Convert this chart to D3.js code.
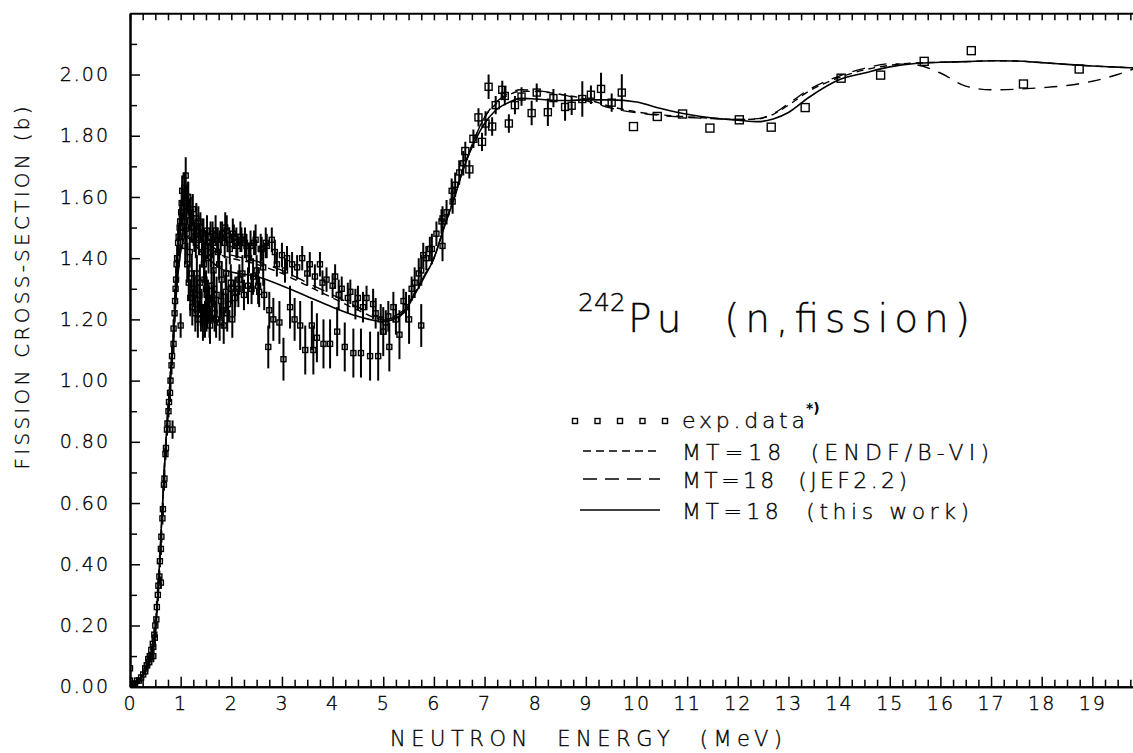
<!DOCTYPE html>
<html><head><meta charset="utf-8">
<script src="https://cdn.jsdelivr.net/npm/d3@7"></script>
<style>
html,body{margin:0;padding:0;background:#fff;}
svg text{font-family:"DejaVu Sans","Liberation Sans",sans-serif;font-weight:200;fill:#000;stroke:#000;stroke-width:0.35px;}
</style></head>
<body><svg id="c" width="1133" height="753"></svg>
<script>
// ---------------- DATA ----------------
const xTickLabels = [0,1,2,3,4,5,6,7,8,9,10,11,12,13,14,15,16,17,18,19];
const yTickLabels = [0,0.2,0.4,0.6,0.8,1.0,1.2,1.4,1.6,1.8,2.0];

// Evaluated curves (energy in MeV, cross-section in b)
const curveE = [0,0.1,0.2,0.3,0.4,0.5,0.55,0.6,0.65,0.7,0.75,0.8,0.85,0.9,0.95,1.0,1.1,1.2,1.4,1.6,1.8,2.0,2.5,3.0,3.5,4.0,4.5,5.0,5.2,5.4,5.6,5.8,6.0,6.2,6.4,6.6,6.8,7.0,7.2,7.5,7.7,8.0,8.5,9.0,9.5,10.0,10.5,11.0,11.5,12.0,12.4,12.7,13.0,13.4,14.0,14.5,15.0,15.5,16.0,16.5,17.0,17.5,18.0,18.5,19.0,19.5,20.0];
const thisWork = [0.01,0.005,0.02,0.05,0.09,0.18,0.30,0.46,0.62,0.78,0.90,1.02,1.12,1.25,1.35,1.42,1.47,1.46,1.42,1.39,1.365,1.355,1.34,1.31,1.275,1.24,1.21,1.193,1.20,1.22,1.275,1.335,1.40,1.50,1.595,1.70,1.78,1.84,1.88,1.91,1.922,1.92,1.915,1.917,1.917,1.91,1.888,1.87,1.858,1.851,1.846,1.855,1.876,1.925,1.983,2.005,2.025,2.036,2.04,2.042,2.045,2.044,2.039,2.033,2.028,2.024,2.02];
const endfB6 = [0.01,0.005,0.02,0.05,0.09,0.18,0.30,0.46,0.62,0.78,0.90,1.02,1.13,1.27,1.37,1.44,1.50,1.49,1.46,1.43,1.41,1.40,1.38,1.35,1.31,1.27,1.23,1.20,1.205,1.225,1.28,1.34,1.40,1.50,1.60,1.70,1.79,1.86,1.90,1.935,1.945,1.945,1.935,1.92,1.895,1.878,1.868,1.862,1.857,1.853,1.855,1.87,1.90,1.945,1.99,2.015,2.03,2.038,2.04,2.042,2.045,2.044,2.039,2.033,2.028,2.024,2.02];
const jef22 = [0.01,0.005,0.02,0.05,0.09,0.18,0.30,0.46,0.62,0.78,0.90,1.02,1.13,1.27,1.37,1.45,1.51,1.50,1.47,1.44,1.42,1.41,1.39,1.36,1.32,1.28,1.24,1.205,1.21,1.23,1.28,1.34,1.40,1.50,1.60,1.70,1.79,1.86,1.905,1.94,1.95,1.948,1.935,1.915,1.89,1.875,1.866,1.86,1.856,1.853,1.856,1.872,1.905,1.95,1.995,2.02,2.035,2.032,2.005,1.962,1.95,1.952,1.957,1.964,1.978,2.0,2.03];

// Experimental data: [energy (MeV), cross-section (b), uncertainty (b)]
const expSetA = [
[0.00,0.06,0.01],[0.00,0.02,0.01],[0.03,0.00,0.01],[0.06,0.01,0.01],[0.10,0.01,0.01],[0.14,0.02,0.01],[0.18,0.02,0.01],[0.22,0.03,0.01],[0.26,0.04,0.01],[0.30,0.05,0.01],
[0.34,0.07,0.01],[0.38,0.08,0.01],[0.42,0.10,0.01],[0.46,0.10,0.02],[0.46,0.13,0.01],[0.49,0.16,0.01],[0.52,0.22,0.02],[0.55,0.30,0.02],[0.58,0.36,0.02],[0.61,0.34,0.02],
[0.61,0.45,0.02],[0.64,0.55,0.02],[0.67,0.66,0.02],[0.70,0.76,0.02],[0.73,0.84,0.02],[0.76,0.90,0.02],[0.79,0.96,0.03],[0.82,1.05,0.03],[0.84,0.84,0.03],[0.86,1.12,0.03],
[0.88,1.22,0.03],[0.90,1.30,0.03],[0.92,1.38,0.03],[0.95,1.45,0.04],[0.98,1.50,0.04],[1.00,1.18,0.04],[1.01,1.55,0.04],[1.03,1.62,0.05],[1.06,1.58,0.05],[1.08,1.52,0.05],
[1.10,1.67,0.06],[1.12,1.48,0.05],[1.15,1.60,0.05],[1.18,1.42,0.05],[1.20,1.55,0.05],[1.22,1.35,0.06],[1.25,1.50,0.05],[1.28,1.28,0.06],[1.30,1.45,0.05],[1.33,1.25,0.06],
[1.35,1.52,0.05],[1.38,1.32,0.06],[1.40,1.22,0.06],[1.43,1.48,0.05],[1.46,1.38,0.06],[1.48,1.20,0.06],[1.50,1.30,0.06],[1.53,1.45,0.05],[1.56,1.25,0.06],[1.58,1.18,0.06],
[1.60,1.42,0.05],[1.63,1.48,0.04],[1.66,1.30,0.06],[1.70,1.20,0.06],[1.72,1.46,0.04],[1.76,1.38,0.05],[1.80,1.26,0.06],[1.82,1.48,0.04],[1.85,1.18,0.06],[1.88,1.50,0.05],
[1.90,1.35,0.05],[1.92,1.22,0.06],[1.96,1.46,0.04],[2.00,1.30,0.05],[2.02,1.20,0.06],[2.05,1.47,0.04],[2.08,1.29,0.05],[2.12,1.44,0.04],[2.16,1.33,0.05],[2.20,1.46,0.04],
[2.25,1.28,0.05],[2.30,1.44,0.04],[2.35,1.40,0.05],[2.40,1.30,0.05],[2.45,1.45,0.04],[2.50,1.36,0.05],[2.55,1.29,0.05],[2.60,1.43,0.04],[2.65,1.28,0.05],[2.70,1.44,0.04],
[2.73,1.11,0.07],[2.75,1.23,0.06],[2.80,1.46,0.04],[2.83,1.20,0.07],[2.86,1.42,0.04],[2.90,1.38,0.04],[2.95,1.19,0.07],[3.00,1.41,0.04],[3.03,1.07,0.07],[3.06,1.36,0.04],
[3.10,1.40,0.04],[3.16,1.24,0.07],[3.20,1.38,0.04],[3.25,1.20,0.07],[3.30,1.37,0.04],[3.36,1.18,0.08],[3.40,1.40,0.04],[3.46,1.10,0.08],[3.50,1.35,0.04],[3.55,1.38,0.04],
[3.59,1.18,0.08],[3.62,1.10,0.08],[3.65,1.34,0.04],[3.69,1.14,0.08],[3.75,1.38,0.04],[3.80,1.32,0.04],[3.82,1.12,0.08],[3.88,1.33,0.04],[3.95,1.12,0.08],[4.00,1.31,0.04],
[4.05,1.34,0.04],[4.09,1.16,0.08],[4.12,1.28,0.05],[4.18,1.30,0.04],[4.24,1.11,0.08],[4.30,1.27,0.05],[4.35,1.29,0.04],[4.41,1.09,0.08],[4.45,1.25,0.05],[4.50,1.27,0.04],
[4.56,1.09,0.08],[4.60,1.24,0.05],[4.67,1.27,0.04],[4.74,1.08,0.08],[4.80,1.25,0.05],[4.85,1.22,0.05],[4.90,1.08,0.08],[4.95,1.20,0.05],[5.00,1.16,0.08],[5.05,1.19,0.04],
[5.10,1.21,0.05],[5.12,1.11,0.08],[5.20,1.24,0.05],[5.25,1.20,0.05],[5.32,1.15,0.08],[5.40,1.26,0.04],[5.45,1.24,0.05],[5.51,1.20,0.08],[5.56,1.30,0.04],[5.62,1.32,0.05],
[5.70,1.35,0.05],[5.75,1.18,0.07],[5.75,1.36,0.05],[5.79,1.41,0.04],[5.85,1.40,0.04],[5.92,1.43,0.04],[5.96,1.43,0.05],[6.05,1.48,0.04],[6.15,1.52,0.04],[6.17,1.44,0.05],
[6.17,1.53,0.04],[6.25,1.55,0.04],[6.35,1.62,0.04],[6.37,1.585,0.04],[6.42,1.64,0.04],[6.50,1.68,0.04],[6.58,1.71,0.04]
];
const expSetD = [
[0.30,0.06,0.01],[0.33,0.07,0.01],[0.36,0.09,0.01],[0.39,0.10,0.01],[0.42,0.12,0.01],[0.45,0.14,0.02],[0.48,0.17,0.02],[0.50,0.20,0.02],[0.53,0.26,0.02],[0.56,0.33,0.02],
[0.59,0.41,0.02],[0.62,0.49,0.02],[0.65,0.58,0.02],[0.68,0.68,0.03],[0.71,0.78,0.03],[0.74,0.86,0.03],[0.77,0.93,0.03],[0.80,1.00,0.03],[0.83,1.08,0.03],[0.86,1.17,0.03],
[0.89,1.26,0.04],[0.91,1.33,0.04],[0.93,1.40,0.04],[0.96,1.47,0.04],[0.99,1.52,0.05],[1.02,1.58,0.05],[1.04,1.50,0.05],[1.07,1.63,0.05],[1.09,1.44,0.06],[1.11,1.57,0.05],
[1.13,1.38,0.06],[1.14,1.60,0.05],[1.16,1.32,0.06],[1.17,1.54,0.05],[1.19,1.27,0.06],[1.21,1.50,0.05],[1.23,1.24,0.06],[1.24,1.56,0.05],[1.26,1.30,0.06],[1.27,1.47,0.05],
[1.29,1.22,0.06],[1.31,1.53,0.05],[1.32,1.35,0.06],[1.34,1.20,0.06],[1.36,1.46,0.05],[1.37,1.28,0.06],[1.39,1.50,0.05],[1.41,1.24,0.06],[1.42,1.42,0.05],[1.44,1.19,0.06],
[1.45,1.48,0.05],[1.47,1.33,0.06],[1.49,1.44,0.05],[1.51,1.22,0.06],[1.52,1.49,0.05],[1.54,1.27,0.06],[1.55,1.40,0.05],[1.57,1.20,0.06],[1.59,1.47,0.05],[1.61,1.31,0.06],
[1.62,1.25,0.06],[1.64,1.45,0.05],[1.65,1.36,0.06],[1.67,1.22,0.06],[1.69,1.49,0.05],[1.71,1.28,0.06],[1.74,1.42,0.05],[1.77,1.19,0.06],[1.79,1.47,0.05],[1.81,1.33,0.06],
[1.84,1.23,0.06],[1.87,1.45,0.05],[1.89,1.29,0.06],[1.91,1.49,0.05],[1.94,1.25,0.06],[1.97,1.43,0.05],[1.99,1.32,0.06],[2.03,1.48,0.05],[2.07,1.27,0.06],[2.10,1.45,0.05],
[2.14,1.30,0.06],[2.18,1.47,0.05],[2.22,1.35,0.06],[2.27,1.45,0.05],[2.33,1.31,0.06],[2.38,1.44,0.05],[2.43,1.34,0.06],[2.48,1.46,0.05],[2.53,1.31,0.06],[2.58,1.43,0.05],
[2.63,1.37,0.06],[2.68,1.45,0.05]
];
const expSetB = [
[6.62,1.75,0.03],[6.70,1.69,0.03],[6.78,1.79,0.03],[6.88,1.86,0.03],[6.95,1.78,0.03],[7.02,1.84,0.04],[7.08,1.96,0.04],[7.15,1.83,0.03],[7.22,1.90,0.03],[7.35,1.95,0.03],
[7.40,1.93,0.03],[7.48,1.84,0.03],[7.60,1.90,0.03],[7.73,1.928,0.03],[7.93,1.874,0.04],[8.03,1.941,0.03],[8.25,1.877,0.045],[8.36,1.923,0.03],[8.59,1.894,0.045],[8.72,1.898,0.03],
[8.93,1.92,0.058],[9.10,1.934,0.03],[9.30,1.953,0.053],[9.51,1.908,0.03],[9.71,1.941,0.06]
];
const expSetC = [
[9.94,1.83],[10.41,1.863],[10.91,1.871],[11.45,1.825],[12.03,1.852],[12.66,1.828],[13.33,1.892],[14.04,1.988],[14.82,1.998],[15.68,2.043],[16.61,2.078],[17.64,1.969],[18.74,2.018]
];
const legendLabels = ["exp.data","MT=18  (ENDF/B-VI)","MT=18  (JEF2.2)","MT=18  (this work)"];

// ---------------- CHART ----------------
const svg = d3.select("#c");
const W = 1133, H = 753;
const x = d3.scaleLinear().domain([0,20]).range([130,1143]);
const y = d3.scaleLinear().domain([0,2.2]).range([686.7,13.3]);

svg.append("rect").attr("width",W).attr("height",H).attr("fill","#fff");
svg.append("clipPath").attr("id","clip").append("rect")
  .attr("x",x(0)).attr("y",y(2.2)).attr("width",x(20)-x(0)).attr("height",y(0)-y(2.2));
const plot = svg.append("g").attr("clip-path","url(#clip)");

const toPt = d => ({e:d[0], s:d[1], err:d[2]||0});
const A = expSetA.map(toPt), D = expSetD.map(toPt), B = expSetB.map(toPt), C = expSetC.map(toPt);

// error bars
plot.append("g").selectAll("line").data(A.concat(D,B).filter(d=>d.err>0)).join("line")
  .attr("x1",d=>x(d.e)).attr("x2",d=>x(d.e))
  .attr("y1",d=>y(d.s-d.err)).attr("y2",d=>y(d.s+d.err))
  .attr("stroke","#000").attr("stroke-width",2);

// curves
const line = d3.line().x(d=>x(d[0])).y(d=>y(d[1])).curve(d3.curveMonotoneX);
function drawCurve(vals, dash, w){
  plot.append("path").datum(curveE.map((e,i)=>[e,vals[i]]))
    .attr("d",line).attr("fill","none").attr("stroke","#000")
    .attr("stroke-width",w).attr("stroke-dasharray",dash);
}
drawCurve(endfB6,"7,5",1.4);
drawCurve(jef22,"13,9",1.4);
drawCurve(thisWork,null,1.6);

// squares
function squares(data,size,sw){
  plot.append("g").selectAll("rect").data(data).join("rect")
    .attr("x",d=>x(d.e)-size/2).attr("y",d=>y(d.s)-size/2)
    .attr("width",size).attr("height",size)
    .attr("fill","none").attr("stroke","#000").attr("stroke-width",sw);
}
squares(A,5,1.4);
squares(D,5,1.4);
squares(B,7,1.4);
squares(C,8,1.4);

// axes
const fmt = d3.format(".2f");
const minorX = d3.range(0,80).map(i=>i*0.25).filter(v=>v%1!==0);
const minorY = d3.range(0,22).map(i=>i*0.1).filter(v=>Math.round(v*10)%2!==0);

const gB = svg.append("g").attr("transform",`translate(0,${y(0)})`);
gB.call(d3.axisBottom(x).tickValues(xTickLabels).tickSize(-10).tickSizeOuter(0).tickPadding(10).tickFormat(d3.format("d")));
gB.append("g").call(d3.axisBottom(x).tickValues(minorX).tickSize(-7).tickSizeOuter(0).tickFormat(""));

const gT = svg.append("g").attr("transform",`translate(0,${y(2.2)})`);
gT.call(d3.axisTop(x).tickValues(minorX.concat(xTickLabels)).tickSize(-7).tickSizeOuter(0).tickFormat(""));

const gL = svg.append("g").attr("transform",`translate(${x(0)},0)`);
gL.call(d3.axisLeft(y).tickValues(yTickLabels).tickSize(-10).tickSizeOuter(0).tickPadding(20).tickFormat(fmt));
gL.append("g").call(d3.axisLeft(y).tickValues(minorY).tickSize(-7).tickSizeOuter(0).tickFormat(""));

svg.selectAll(".domain").attr("stroke","#000").attr("stroke-width",2);
svg.selectAll(".tick line").attr("stroke","#000").attr("stroke-width",1.5);
svg.selectAll(".tick text").attr("font-size",19).attr("font-family","DejaVu Sans, Liberation Sans, sans-serif")
  .style("letter-spacing","2px");

// axis titles
svg.append("text").attr("transform","translate(29,288) rotate(-90)")
  .attr("text-anchor","middle").attr("font-size",20)
  .attr("textLength",363).attr("lengthAdjust","spacing")
  .text("FISSION CROSS-SECTION (b)");
svg.append("text").attr("x",390).attr("y",746)
  .attr("font-size",21)
  .attr("textLength",392).attr("lengthAdjust","spacing")
  .style("white-space","pre").text("NEUTRON  ENERGY  (MeV)");

// title
svg.append("text").attr("x",578).attr("y",311).attr("font-size",25).text("242");
svg.append("text").attr("x",628).attr("y",332).attr("font-size",39)
  .attr("textLength",342).attr("lengthAdjust","spacing")
  .style("white-space","pre").text("Pu  (n,fission)");

// legend
const legY = [421, 451, 479, 510];
const legTextY = [428, 460, 488, 519];
const legLen = [123,307,225,287];
[0,1,2,3,4].forEach(i=>{
  svg.append("rect").attr("x",575+i*22.5-2.5).attr("y",legY[0]-2.5).attr("width",5).attr("height",5)
    .attr("fill","none").attr("stroke","#000").attr("stroke-width",1.4);
});
svg.append("line").attr("x1",583).attr("x2",660).attr("y1",legY[1]).attr("y2",legY[1])
  .attr("stroke","#000").attr("stroke-width",1.4).attr("stroke-dasharray","8,5");
svg.append("line").attr("x1",583).attr("x2",660).attr("y1",legY[2]).attr("y2",legY[2])
  .attr("stroke","#000").attr("stroke-width",1.4).attr("stroke-dasharray","14,8");
svg.append("line").attr("x1",580).attr("x2",660).attr("y1",legY[3]).attr("y2",legY[3])
  .attr("stroke","#000").attr("stroke-width",1.6);
legendLabels.forEach((t,i)=>{
  svg.append("text").attr("x",682).attr("y",legTextY[i]).attr("font-size",22)
    .attr("textLength",legLen[i]).attr("lengthAdjust","spacing")
    .style("white-space","pre").text(t);
});
svg.append("text").attr("x",806).attr("y",413).attr("font-size",14)
  .style("font-weight","700").style("stroke-width","0px").text("*)");
</script></body></html>
